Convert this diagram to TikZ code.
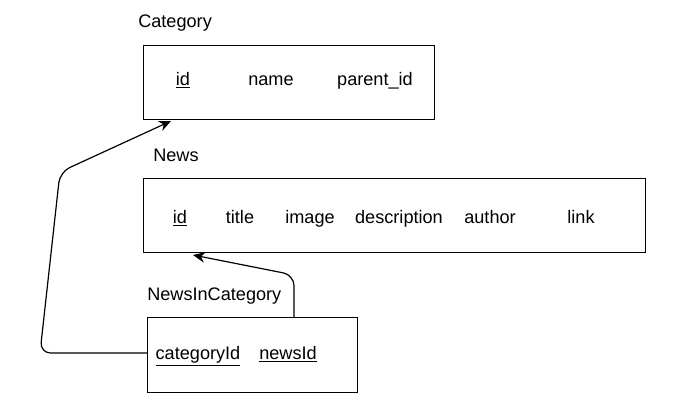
\documentclass[tikz,border=0pt]{standalone}
\usepackage{fontspec}
\setmainfont{Liberation Sans}
\usetikzlibrary{arrows.meta}
\begin{document}
\begin{tikzpicture}[x=0.75pt,y=-0.75pt,
  ent/.style={draw,line width=0.9pt,inner sep=0pt,anchor=north west},
  lbl/.style={font=\fontsize{13.6}{16}\selectfont,inner sep=0pt,anchor=west,text height=10pt,text depth=3pt},
  fld/.style={font=\fontsize{13.6}{16}\selectfont,inner sep=0pt,text height=10pt,text depth=3pt},
  conn/.style={line width=0.9pt,rounded corners=8pt,-{Stealth[length=9pt,width=8pt]}}]
\useasboundingbox (0,0) rectangle (686,415);
% boxes
\node[ent,minimum width=291*0.75pt,minimum height=74*0.75pt] (cat) at (143,45) {};
\node[ent,minimum width=502*0.75pt,minimum height=74*0.75pt] (news) at (143,178) {};
\node[ent,minimum width=210*0.75pt,minimum height=75*0.75pt] (nic) at (147,317) {};
% labels
\node[lbl] (catl) at (138,23) {Category};
\node[lbl] (newsl) at (153,157) {News};
\node[lbl] (nicl) at (147,296) {NewsInCategory};
% fields
\node[fld] (cid) at (183,81) {\underline{id}};
\node[fld] (cname) at (271,81) {name};
\node[fld] (cpar) at (375,81) {parent\_id};
\node[fld] (nid) at (180,219) {\underline{id}};
\node[fld] (ntitle) at (240,219) {title};
\node[fld] (nimg) at (310,219) {image};
\node[fld] (ndesc) at (399,219) {description};
\node[fld] (nauth) at (490,219) {author};
\node[fld] (nlink) at (581,219) {link};
\node[fld] (ncat) at (198,355) {\underline{categoryId}};
\node[fld] (nnews) at (288,355) {\underline{newsId}};
% connectors
\coordinate (t1) at (171,121);
\coordinate (t2) at (193,255);
\draw[conn] (nic.west |- 0,353) -- (40,353) -- (60,172) -- (t1);
\draw[conn] (nic.north -| 294,0) -- (294,275) -- (t2);
\end{tikzpicture}
\end{document}
